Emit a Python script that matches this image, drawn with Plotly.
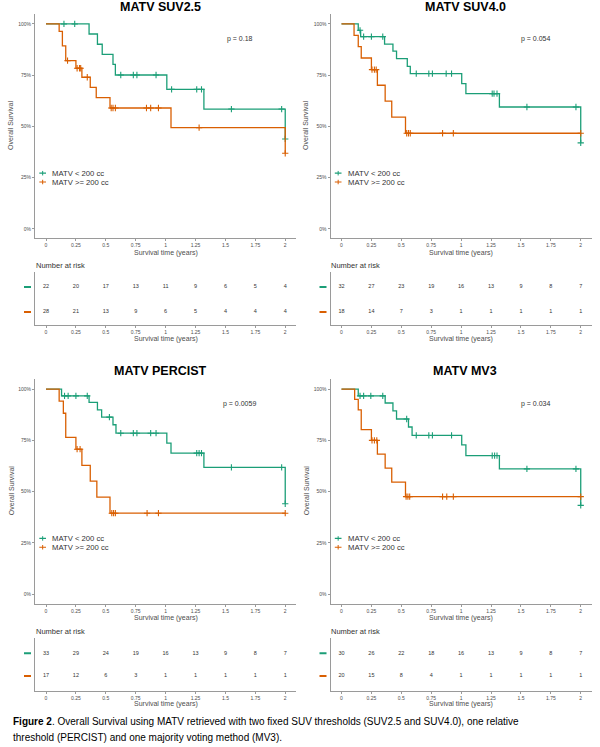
import plotly.graph_objects as go

# ---- data ----
panel_titles = ['MATV SUV2.5', 'MATV SUV4.0', 'MATV PERCIST', 'MATV MV3']
p_values = ['p = 0.18', 'p = 0.054', 'p = 0.0059', 'p = 0.034']
group_names = ['MATV < 200 cc', 'MATV >= 200 cc']
group_colors = ['#1B9E77', '#D95F02']

# event times (years) and survival (%) just after each event, then censor times
suv25_low_times = [0.36, 0.43, 0.47, 0.56, 0.58, 1.01, 1.32, 2.0]
suv25_low_surv = [95.1, 90.1, 85.2, 80.3, 75.1, 68.1, 58.5, 43.9]
suv25_low_cens = [0.15, 0.24, 0.625, 0.73, 0.76, 0.92, 1.05, 1.26, 1.30, 1.55, 1.97, 2.0]
suv25_high_times = [0.11, 0.137, 0.165, 0.25, 0.30, 0.37, 0.42, 0.535, 1.045, 2.0]
suv25_high_surv = [96.4, 89.3, 82.1, 78.4, 74.0, 69.1, 64.1, 59.0, 49.4, 36.9]
suv25_high_cens = [0.18, 0.26, 0.28, 0.29, 0.345, 0.545, 0.56, 0.58, 0.84, 0.875, 0.94, 1.28, 2.0]

suv40_low_times = [0.14, 0.16, 0.36, 0.43, 0.46, 0.55, 0.575, 1.005, 1.04, 1.32, 2.0]
suv40_low_surv = [96.9, 93.8, 90.2, 86.7, 83.1, 79.3, 75.8, 70.9, 66.0, 59.5, 42.0]
suv40_low_cens = [0.155, 0.185, 0.25, 0.345, 0.625, 0.73, 0.76, 0.875, 0.92, 1.26, 1.275, 1.30, 1.55, 1.96, 2.0]
suv40_high_times = [0.105, 0.14, 0.165, 0.25, 0.30, 0.365, 0.42, 0.535]
suv40_high_surv = [94.4, 88.9, 83.4, 77.7, 70.1, 62.4, 54.6, 46.7]
suv40_high_cens = [0.255, 0.275, 0.29, 0.545, 0.56, 0.575, 0.845, 0.935, 2.0]

percist_low_times = [0.13, 0.36, 0.43, 0.465, 0.56, 0.585, 1.01, 1.045, 1.32, 2.0]
percist_low_surv = [96.7, 93.5, 89.9, 86.3, 82.6, 78.5, 73.7, 68.8, 61.8, 44.1]
percist_low_cens = [0.155, 0.185, 0.25, 0.345, 0.53, 0.625, 0.73, 0.76, 0.875, 0.92, 1.26, 1.28, 1.30, 1.55, 1.97, 2.0]
percist_high_times = [0.11, 0.145, 0.165, 0.25, 0.30, 0.37, 0.425, 0.535]
percist_high_surv = [94.1, 88.2, 76.5, 70.7, 62.8, 55.1, 47.3, 39.5]
percist_high_cens = [0.26, 0.285, 0.55, 0.565, 0.58, 0.845, 0.94, 2.0]

mv3_low_times = [0.14, 0.365, 0.43, 0.46, 0.56, 0.59, 1.005, 1.04, 1.32, 2.0]
mv3_low_surv = [96.7, 93.2, 89.4, 85.4, 81.5, 77.4, 72.8, 67.6, 61.1, 43.3]
mv3_low_cens = [0.155, 0.185, 0.245, 0.345, 0.545, 0.625, 0.73, 0.76, 0.92, 1.26, 1.28, 1.30, 1.55, 1.96, 2.0]
mv3_high_times = [0.11, 0.14, 0.165, 0.25, 0.30, 0.365, 0.42, 0.535]
mv3_high_surv = [95.0, 89.9, 80.2, 75.0, 68.3, 61.5, 54.6, 47.6]
mv3_high_cens = [0.255, 0.275, 0.295, 0.54, 0.555, 0.57, 0.845, 0.88, 0.935, 2.0]

risk_times = [0, 0.25, 0.5, 0.75, 1, 1.25, 1.5, 1.75, 2]
risk_ticklabels = ['0', '0.25', '0.5', '0.75', '1', '1.25', '1.5', '1.75', '2']
suv25_risk_low = [22, 20, 17, 13, 11, 9, 6, 5, 4]
suv25_risk_high = [28, 21, 13, 9, 6, 5, 4, 4, 4]
suv40_risk_low = [32, 27, 23, 19, 16, 13, 9, 8, 7]
suv40_risk_high = [18, 14, 7, 3, 1, 1, 1, 1, 1]
percist_risk_low = [33, 29, 24, 19, 16, 13, 9, 8, 7]
percist_risk_high = [17, 12, 6, 3, 1, 1, 1, 1, 1]
mv3_risk_low = [30, 26, 22, 18, 16, 13, 9, 8, 7]
mv3_risk_high = [20, 15, 8, 4, 1, 1, 1, 1, 1]

surv_ticks = [0, 25, 50, 75, 100]

caption_1 = ('<b>Figure 2</b>. Overall Survival using MATV retrieved with two fixed SUV thresholds '
             '(SUV2.5 and SUV4.0), one relative')
caption_2 = 'threshold (PERCIST) and one majority voting method (MV3).'

panels = [
    [(suv25_low_times, suv25_low_surv, suv25_low_cens), (suv25_high_times, suv25_high_surv, suv25_high_cens),
     (suv25_risk_low, suv25_risk_high)],
    [(suv40_low_times, suv40_low_surv, suv40_low_cens), (suv40_high_times, suv40_high_surv, suv40_high_cens),
     (suv40_risk_low, suv40_risk_high)],
    [(percist_low_times, percist_low_surv, percist_low_cens), (percist_high_times, percist_high_surv, percist_high_cens),
     (percist_risk_low, percist_risk_high)],
    [(mv3_low_times, mv3_low_surv, mv3_low_cens), (mv3_high_times, mv3_high_surv, mv3_high_cens),
     (mv3_risk_low, mv3_risk_high)],
]

# ---- layout geometry (pixels of the 600x747 page) ----
W, H = 600, 747
FONT = 'Liberation Sans, Arial, sans-serif'
TXT = '#4d4d4d'
AXC = '#9a9a9a'


def fx(px):
    return px / W


def fy(py):
    return 1 - py / H


col_left = [35, 330.5, 35, 330.5]
col_width = 261
km_rows = [(13.7, 238.2), (13.7, 238.2), (378.8, 603.5), (378.8, 603.5)]
tab_rows = [(271.7, 325.0), (271.7, 325.0), (637.7, 690.7), (637.7, 690.7)]
tab_ranges = [[0.48, 2.61], [0.48, 2.61], [0.35, 2.69], [0.35, 2.69]]
title_pos = [(160, 7), (465, 7), (159.5, 370.7), (465, 370.7)]
xtitle_y = [(253, 339), (253, 339), (618, 704), (618, 704)]
nar_y = [265, 265, 631, 631]
ytitle_x = [11, 306, 11, 306]

x_range = [-0.092, 2.09]
y_range = [-4.5, 105]

fig = go.Figure()
annotations = []
shapes = []
layout_axes = {}


def surv_at(times, surv, t):
    s = 100.0
    for ti, si in zip(times, surv):
        if ti <= t:
            s = si
    return s


for i, (low, high, risks) in enumerate(panels):
    kx = 'x' if i == 0 else 'x%d' % (2 * i + 1)
    ky = 'y' if i == 0 else 'y%d' % (2 * i + 1)
    tx = 'x%d' % (2 * i + 2)
    ty = 'y%d' % (2 * i + 2)
    left = col_left[i]

    for g, (times, surv, cens) in enumerate([low, high]):
        c = group_colors[g]
        xs = [0] + list(times)
        ys = [100] + list(surv)
        if max(cens) > xs[-1]:
            xs.append(max(cens))
            ys.append(ys[-1])
        fig.add_trace(go.Scatter(x=xs, y=ys, mode='lines', line=dict(color=c, width=1.3, shape='hv'),
                                 xaxis=kx, yaxis=ky, showlegend=False, hoverinfo='skip'))
        fig.add_trace(go.Scatter(x=cens, y=[surv_at(times, surv, t) for t in cens], mode='markers',
                                 marker=dict(symbol='cross-thin', size=4.5, line=dict(color=c, width=1.1)),
                                 xaxis=kx, yaxis=ky, showlegend=False, hoverinfo='skip'))
        # number at risk row
        fig.add_trace(go.Scatter(x=risk_times, y=[2 - g] * len(risk_times), mode='text',
                                 text=[str(v) for v in risks[g]],
                                 textfont=dict(family=FONT, size=5.5, color='#333333'),
                                 xaxis=tx, yaxis=ty, showlegend=False, hoverinfo='skip'))
        # coloured key in front of the risk row
        shapes.append(dict(type='line', xref='paper', yref=ty, x0=fx(left - 11), x1=fx(left - 4),
                           y0=2 - g, y1=2 - g, line=dict(color=c, width=2)))

        # legend key and label inside the KM panel
        ly = 27.2 - 4.3 * g
        shapes.append(dict(type='line', xref=kx, yref=ky, x0=-0.056, x1=0.0, y0=ly, y1=ly,
                           line=dict(color=c, width=1.2)))
        shapes.append(dict(type='line', xref=kx, yref=ky, x0=-0.028, x1=-0.028, y0=ly - 1.1, y1=ly + 1.1,
                           line=dict(color=c, width=1)))
        annotations.append(dict(x=0.035, y=ly, xref=kx, yref=ky, text=group_names[g], showarrow=False,
                                xanchor='left', yanchor='middle',
                                font=dict(family=FONT, size=7.7, color='#333333')))

    kdom_x = [fx(left), fx(left + col_width)]
    t0, t1 = km_rows[i]
    b0, b1 = tab_rows[i]
    axis_common = dict(showline=True, linecolor=AXC, linewidth=1, ticks='outside', ticklen=2,
                       tickcolor=AXC, tickfont=dict(family=FONT, size=5, color=TXT),
                       showgrid=False, zeroline=False, fixedrange=True)
    layout_axes['xaxis' if i == 0 else 'xaxis%d' % (2 * i + 1)] = dict(
        domain=kdom_x, range=x_range, anchor=ky, tickvals=risk_times, ticktext=risk_ticklabels, **axis_common)
    layout_axes['yaxis' if i == 0 else 'yaxis%d' % (2 * i + 1)] = dict(
        domain=[fy(t1), fy(t0)], range=y_range, anchor=kx, tickvals=surv_ticks,
        ticktext=['%d%%' % v for v in surv_ticks], **axis_common)
    layout_axes['xaxis%d' % (2 * i + 2)] = dict(
        domain=kdom_x, range=x_range, anchor=ty, tickvals=risk_times, ticktext=risk_ticklabels, **axis_common)
    tab_y = dict(axis_common)
    tab_y.update(ticks='', showticklabels=False)
    layout_axes['yaxis%d' % (2 * i + 2)] = dict(
        domain=[fy(b1), fy(b0)], range=tab_ranges[i], anchor=tx, tickvals=[2, 1], **tab_y)

    # titles and labels
    tx_px, ty_px = title_pos[i]
    annotations.append(dict(x=fx(tx_px), y=fy(ty_px), xref='paper', yref='paper', text='<b>%s</b>' % panel_titles[i],
                            showarrow=False, xanchor='center', yanchor='middle',
                            font=dict(family=FONT, size=12.5, color='black')))
    annotations.append(dict(x=1.62, y=92.5, xref=kx, yref=ky, text=p_values[i], showarrow=False,
                            xanchor='center', yanchor='middle', font=dict(family=FONT, size=7, color='#333333')))
    annotations.append(dict(x=fx(ytitle_x[i]), y=fy((t0 + t1) / 2), xref='paper', yref='paper',
                            text='Overall Survival', textangle=-90, showarrow=False,
                            xanchor='center', yanchor='middle', font=dict(family=FONT, size=7, color=TXT)))
    for yy in xtitle_y[i]:
        annotations.append(dict(x=fx(left + col_width / 2), y=fy(yy), xref='paper', yref='paper',
                                text='Survival time (years)', showarrow=False, xanchor='center', yanchor='middle',
                                font=dict(family=FONT, size=7, color=TXT)))
    annotations.append(dict(x=fx(left - 1.5), y=fy(nar_y[i]), xref='paper', yref='paper', text='Number at risk',
                            showarrow=False, xanchor='left', yanchor='middle',
                            font=dict(family=FONT, size=7.5, color='#333333')))

annotations.append(dict(x=fx(11), y=fy(721), xref='paper', yref='paper', text=caption_1, showarrow=False,
                        xanchor='left', yanchor='middle', font=dict(family=FONT, size=10, color='black')))
annotations.append(dict(x=fx(11), y=fy(737), xref='paper', yref='paper', text=caption_2, showarrow=False,
                        xanchor='left', yanchor='middle', font=dict(family=FONT, size=10, color='black')))

fig.update_layout(width=W, height=H, margin=dict(l=0, r=0, t=0, b=0),
                  paper_bgcolor='white', plot_bgcolor='white', showlegend=False,
                  annotations=annotations, shapes=shapes, **layout_axes)

# the page body has an 8px default margin; drop it so the figure sits at the window corner
fig.write_html("out.html", config={'displayModeBar': False},
               post_script="document.body.style.margin='0';document.body.style.overflow='hidden';")
